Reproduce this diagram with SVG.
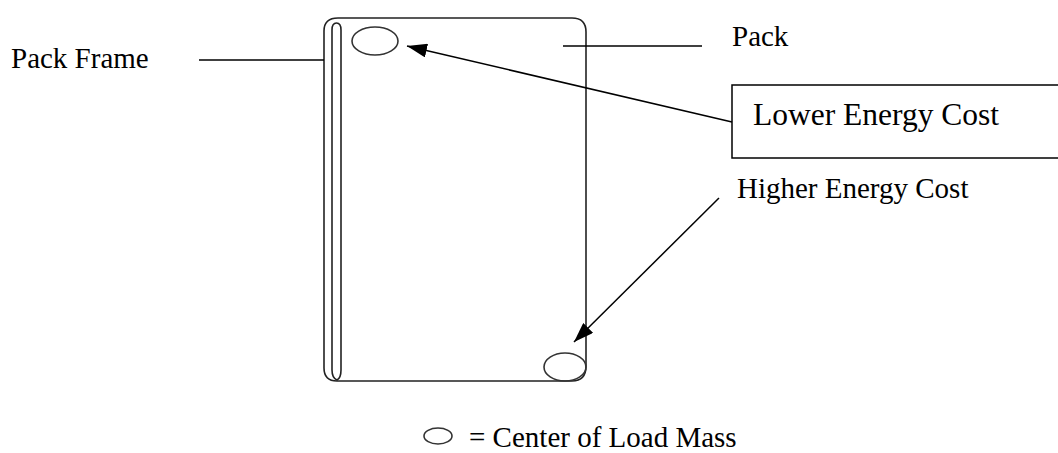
<svg xmlns="http://www.w3.org/2000/svg" width="1058" height="453" viewBox="0 0 1058 453">
<style>
.t{font-family:"Liberation Serif","Times New Roman",serif;fill:#000}
.ln{fill:none;stroke:#000;stroke-width:1.5}
.sh{fill:none;stroke:#222;stroke-width:1.6}
.ov{fill:none;stroke:#333;stroke-width:1.6}
</style>
<defs>
<marker id="ah" viewBox="0 0 20 14" refX="20" refY="7" markerWidth="20" markerHeight="14" markerUnits="userSpaceOnUse" orient="auto">
<path d="M0,0 L20,7 L0,14 Z" fill="#000"/>
</marker>
</defs>
<rect width="1058" height="453" fill="#fff"/>
<g id="pack">
<path class="sh" d="M338,18 H572 Q586,18 586,32 V366 Q586,381 572,381 H337 Q324,381 324,368 V31 Q324,18 338,18"/>
<path class="sh" d="M332,370 V30 Q332,23 336.5,23 Q341,23 341,30 V370 Q341,378 337,380 Q332,378 332,370"/>
</g>
<g id="oval-top"><ellipse class="ov" cx="375" cy="41" rx="23" ry="14"/></g>
<g id="oval-bottom"><ellipse class="ov" cx="565" cy="367" rx="21" ry="14"/></g>
<g id="label-frame"><text class="t" x="11" y="68" font-size="29">Pack Frame</text></g>
<g id="label-pack"><text class="t" x="732" y="46" font-size="29">Pack</text></g>
<g id="box-lower">
<rect x="732" y="85" width="340" height="73" fill="none" stroke="#000" stroke-width="1.5"/>
<text class="t" x="753" y="125" font-size="31.5">Lower Energy Cost</text>
</g>
<g id="label-higher"><text class="t" x="737" y="198" font-size="29">Higher Energy Cost</text></g>
<g id="legend">
<ellipse class="ov" cx="438" cy="436" rx="14" ry="8"/>
<text class="t" x="469" y="447" font-size="29">= Center of Load Mass</text>
</g>
<g id="connectors">
<line class="ln" x1="199" y1="60" x2="324" y2="60"/>
<line class="ln" x1="563" y1="46" x2="702" y2="46"/>
<line class="ln" x1="732" y1="122" x2="407" y2="46" marker-end="url(#ah)"/>
<line class="ln" x1="719" y1="198" x2="574" y2="342" marker-end="url(#ah)"/>
</g>
</svg>
